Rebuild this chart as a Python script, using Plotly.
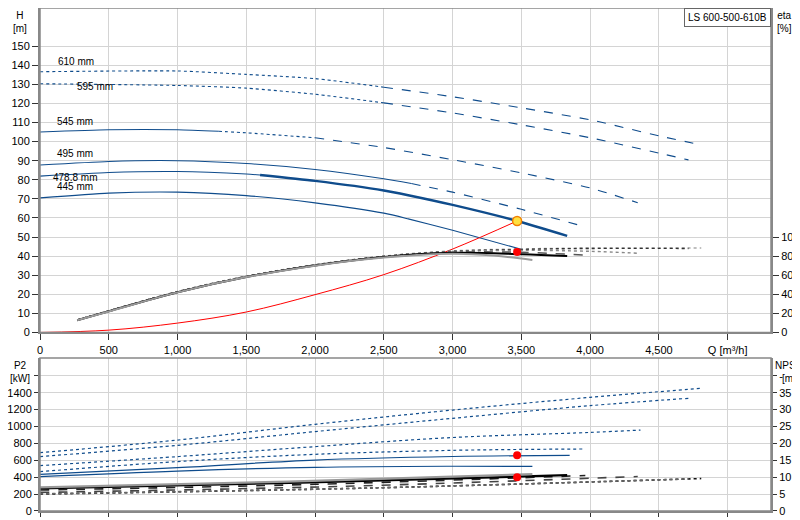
import plotly.graph_objects as go

BLUE = "#0f4c8c"
# ---- data ----
imp_names = ["610 mm", "595 mm", "545 mm", "495 mm", "478.8 mm", "445 mm"]
H_q = {
    "610": [0, 1000, 1500, 2000, 2500, 3000, 3500, 4000, 4500, 4808],
    "595": [0, 1000, 1500, 2000, 2500, 3000, 3500, 4000, 4500, 4715],
    "545": [0, 500, 1000, 1300, 1500, 2000, 2500, 3000, 3500, 4000, 4346],
    "495": [0, 500, 1000, 1500, 2000, 2500, 2700, 3000, 3500, 3965],
    "478.8": [0, 500, 1000, 1500, 1600, 2000, 2500, 2677, 3000, 3469, 3833],
    "445": [0, 500, 1000, 1500, 2000, 2500, 2677, 3000, 3512],
}
H_h = {
    "610": [136.6, 137.0, 135.2, 133.0, 128.5, 123.5, 117.7, 111.4, 103.0, 98.3],
    "595": [130.3, 129.4, 128.0, 124.8, 120.3, 115.0, 108.8, 102.0, 94.0, 90.4],
    "545": [105.0, 106.2, 106.2, 105.4, 104.6, 102.0, 96.9, 90.5, 83.6, 75.7, 68.0],
    "495": [87.7, 89.6, 90.0, 88.5, 85.4, 80.5, 78.0, 73.5, 64.5, 55.3],
    "478.8": [81.9, 83.8, 84.3, 83.0, 82.5, 79.4, 74.4, 71.9, 66.8, 58.4, 50.6],
    "445": [70.5, 73.0, 73.5, 71.7, 67.9, 62.5, 59.5, 53.5, 43.3],
}
H_style = {
    "610": [(0, 2500, "dot", 1.1), (2500, 4808, "dash", 1.1)],
    "595": [(0, 2500, "dot", 1.1), (2500, 4715, "dash", 1.1)],
    "545": [(0, 1300, "solid", 1.1), (1300, 2000, "dot", 1.1), (2000, 4346, "dash", 1.1)],
    "495": [(0, 2700, "solid", 1.1), (2700, 3965, "dash", 1.1)],
    "478.8": [(0, 1600, "solid", 1.1), (1600, 3833, "solid", 2.4)],
    "445": [(0, 3512, "solid", 1.1)],
}
eta_q = {
    "445": [270, 500, 1000, 1500, 2000, 2500, 3000, 3300, 3580],
    "478.8": [270, 500, 1000, 1500, 2000, 2500, 3000, 3500, 3833],
    "495": [270, 500, 1000, 1500, 2000, 2500, 3000, 3500, 3965],
    "545": [270, 500, 1000, 1500, 2000, 2500, 3000, 3500, 4000, 4346],
    "595": [270, 500, 1000, 1500, 2000, 2500, 3000, 3500, 4000, 4715],
    "610": [270, 500, 1000, 1500, 2000, 2500, 3000, 3500, 4000, 4808],
}
eta_v = {
    "445": [12.8, 22.0, 42.0, 58.0, 70.0, 78.5, 82.5, 80.5, 76.0],
    "478.8": [12.8, 22.2, 42.2, 58.2, 70.2, 79.0, 83.5, 82.0, 80.0],
    "495": [12.9, 22.3, 42.3, 58.3, 70.4, 79.2, 84.0, 84.0, 81.0],
    "545": [13.0, 22.4, 42.5, 58.5, 70.6, 79.5, 84.5, 86.0, 85.0, 83.0],
    "595": [13.1, 22.6, 42.7, 58.8, 70.8, 79.8, 85.0, 87.0, 88.0, 88.0],
    "610": [13.2, 22.8, 42.9, 59.0, 71.0, 80.0, 85.5, 87.5, 88.5, 88.5],
}
eta_style = {"445": ("#9a9a9a", "solid"), "478.8": ("#000000", "solid"), "495": ("#555555", "dash"),
             "545": ("#888888", "dot"), "595": ("#333333", "dot"), "610": ("#aaaaaa", "dot")}
sys_q = [0, 500, 1000, 1500, 2000, 2500, 3000, 3469]
sys_h = [0, 1.2, 4.9, 10.7, 19.8, 30.3, 43.7, 58.4]

P2_q = {
    "610": [0, 1000, 2000, 3000, 4000, 4808],
    "595": [0, 1000, 2000, 3000, 4000, 4715],
    "545": [0, 1000, 2000, 3000, 4000, 4366],
    "495": [0, 1000, 2000, 3000, 3965],
    "478.8": [0, 1000, 2000, 3000, 3851],
    "445": [0, 1000, 2000, 3000, 3580],
}
P2_v = {
    "610": [690, 840, 1026, 1195, 1345, 1452],
    "595": [644, 777, 940, 1097, 1247, 1334],
    "545": [537, 644, 762, 870, 930, 958],
    "495": [466, 585, 671, 718, 734],
    "478.8": [434, 513, 603, 645, 659],
    "445": [407, 473, 517, 530, 529],
}
P2_dash = {"610": "dot", "595": "dot", "545": "dot", "495": "dot", "478.8": "solid", "445": "solid"}
NP_q = {
    "445": [0, 1800, 3580], "478.8": [0, 1900, 3833], "495": [0, 2000, 3965],
    "545": [0, 2200, 4346], "595": [0, 2400, 4715], "610": [0, 2400, 4808],
}
NP_v = {
    "445": [7.0, 8.7, 10.9], "478.8": [6.7, 8.4, 10.6], "495": [6.2, 7.9, 10.5],
    "545": [5.5, 7.3, 10.2], "595": [5.1, 6.8, 9.5], "610": [5.0, 6.8, 9.6],
}
NP_style = {"445": ("#999999", "solid", 2.2), "478.8": ("#000000", "solid", 2.2), "495": ("#222222", "dash", 1.6),
            "545": ("#444444", "dash", 1.6), "595": ("#666666", "dot", 1.6), "610": ("#111111", "dot", 1.6)}
duty_q, duty_h, duty_eta, duty_p2, duty_npsh = 3469, 58.4, 84.4, 659, 10.0

label_q = [260, 397, 258, 258, 258, 258]
label_h = [141.8, 128.7, 110.4, 93.6, 81.4, 76.6]
q_ticks = [0, 500, 1000, 1500, 2000, 2500, 3000, 3500, 4000, 4500, 5000]
q_text = ["0", "500", "1,000", "1,500", "2,000", "2,500", "3,000", "3,500", "4,000", "4,500", "Q [m³/h]"]

fig = go.Figure()
keys = ["610", "595", "545", "495", "478.8", "445"]
for k in keys:
    q, h = H_q[k], H_h[k]
    for a, b, d, w in H_style[k]:
        idx = [i for i in range(len(q)) if a <= q[i] <= b]
        fig.add_trace(go.Scatter(x=[q[i] for i in idx], y=[h[i] for i in idx], mode="lines",
                                 line=dict(color=BLUE, width=w, dash=d, shape="spline", smoothing=0.6),
                                 xaxis="x", yaxis="y", hoverinfo="skip"))
for k in keys:
    c, d = eta_style[k]
    fig.add_trace(go.Scatter(x=eta_q[k], y=eta_v[k], mode="lines",
                             line=dict(color=c, width=2.0 if d == "solid" else 1.4, dash=d, shape="spline"),
                             xaxis="x", yaxis="y2", hoverinfo="skip"))
fig.add_trace(go.Scatter(x=sys_q, y=sys_h, mode="lines", line=dict(color="red", width=1, shape="spline"),
                         xaxis="x", yaxis="y"))
fig.add_trace(go.Scatter(x=[duty_q], y=[duty_h], mode="markers",
                         marker=dict(color="#ffe040", size=9, line=dict(color="#f08000", width=1.5)),
                         xaxis="x", yaxis="y"))
fig.add_trace(go.Scatter(x=[duty_q], y=[duty_eta], mode="markers", marker=dict(color="red", size=8),
                         xaxis="x", yaxis="y2"))
for k in keys:
    fig.add_trace(go.Scatter(x=P2_q[k], y=P2_v[k], mode="lines",
                             line=dict(color=BLUE, width=1.2, dash=P2_dash[k], shape="spline"),
                             xaxis="x2", yaxis="y3"))
for k in keys:
    c, d, w = NP_style[k]
    fig.add_trace(go.Scatter(x=NP_q[k], y=NP_v[k], mode="lines",
                             line=dict(color=c, width=w, dash=d, shape="spline"),
                             xaxis="x2", yaxis="y4"))
fig.add_trace(go.Scatter(x=[duty_q], y=[duty_p2], mode="markers", marker=dict(color="red", size=8),
                         xaxis="x2", yaxis="y3"))
fig.add_trace(go.Scatter(x=[duty_q], y=[duty_npsh], mode="markers", marker=dict(color="red", size=8),
                         xaxis="x2", yaxis="y4"))

for name, q, h in zip(imp_names, label_q, label_h):
    fig.add_annotation(x=q, y=h, xref="x", yref="y", text=name, showarrow=False,
                       font=dict(size=10, color="#000"))

AX = dict(showline=True, linecolor="#888", linewidth=2, mirror=False, ticks="outside", ticklen=4,
          tickcolor="#333", gridcolor="#d4d4d4", gridwidth=1, zeroline=False, automargin=False,
          tickfont=dict(size=11, color="#000"))
XR = [0, 5315]
fig.update_layout(
    width=800, height=520, margin=dict(l=32, r=37, t=0, b=17),
    plot_bgcolor="white", paper_bgcolor="white", showlegend=False,
    font=dict(family="Liberation Sans, Arial", size=11, color="#000"),
    xaxis=dict(AX, domain=[0, 1], range=XR, anchor="y", tickvals=q_ticks, ticktext=q_text, ticklen=6),
    yaxis=dict(AX, domain=[0.355, 1], range=[0, 170], tickvals=list(range(0, 151, 10)), ticklen=6),
    yaxis2=dict(AX, overlaying="y", side="right", range=[0, 340], tickvals=list(range(0, 101, 20)),
                showgrid=False, anchor="x", ticklen=6),
    xaxis2=dict(AX, domain=[0, 1], range=XR, anchor="y3", tickvals=q_ticks, showticklabels=False),
    yaxis3=dict(AX, domain=[0, 0.304], range=[0, 1810], tickvals=list(range(0, 1601, 200)),
                ticktext=[str(v) for v in range(0, 1401, 200)] + [""]),
    yaxis4=dict(AX, overlaying="y3", side="right", range=[0, 45.25], tickvals=list(range(0, 41, 5)),
                ticktext=[str(v) for v in range(0, 36, 5)] + ["-"], showgrid=False, anchor="x2"),
)
for yr in [(0.355, 1), (0, 0.304)]:
    fig.add_shape(type="rect", xref="paper", yref="paper", x0=0, x1=1, y0=yr[0], y1=yr[1],
                  line=dict(color="#888", width=1.5), layer="above")
fig.add_annotation(xref="paper", yref="paper", x=1, y=1, xanchor="right", yanchor="top",
                   text="LS 600-500-610B", showarrow=False, bgcolor="white", bordercolor="#666",
                   borderwidth=1, borderpad=3, font=dict(size=10))
for txt, x, y in [("H<br>[m]", -0.028, 1.0), ("eta<br>[%]", 1.018, 1.0),
                  ("P2<br>[kW]", -0.028, 0.304), ("NPSH<br>[m]", 1.025, 0.304)]:
    fig.add_annotation(xref="paper", yref="paper", x=x, y=y, xanchor="center", yanchor="top", text=txt,
                       showarrow=False, font=dict(size=10), align="center")
fig.write_html("out.html")
